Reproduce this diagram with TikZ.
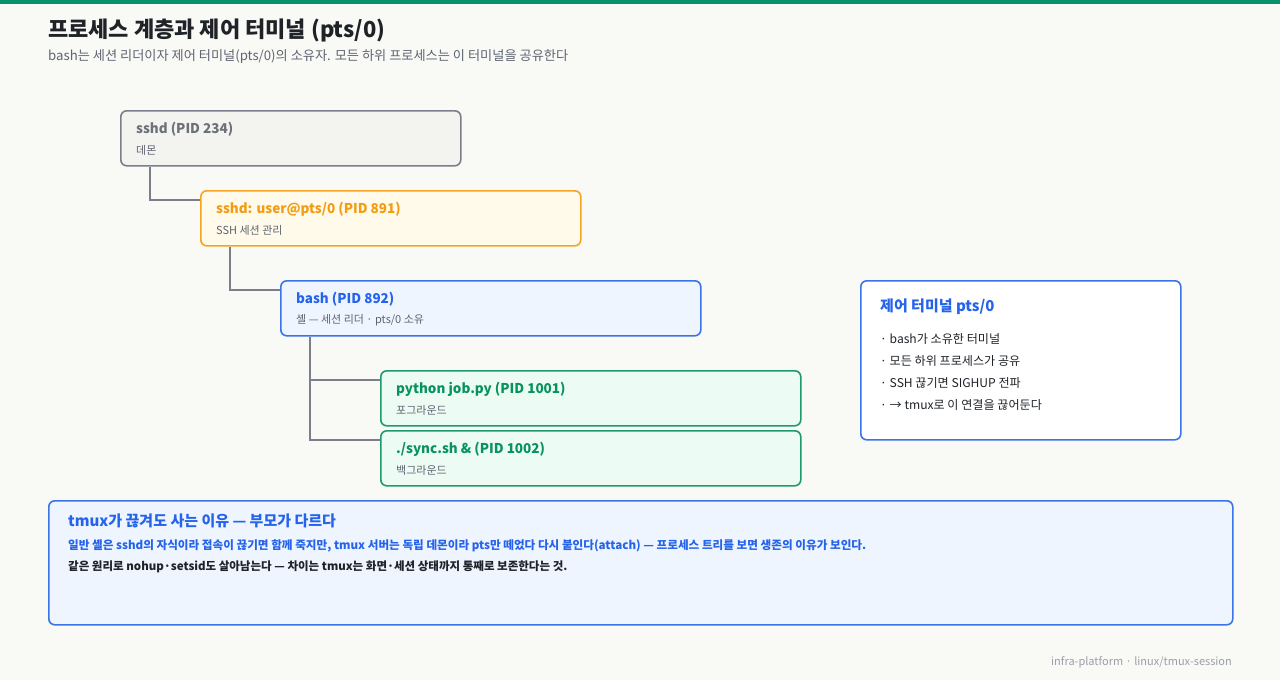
\documentclass[tikz,border=0pt]{standalone}
\usepackage{fontspec}
\setmainfont{Noto Sans CJK KR}
\usepackage{xcolor}
\usepackage{tikz}
\usetikzlibrary{positioning, calc}

\definecolor{bgpage}{HTML}{F9F9F6}
\definecolor{topbar}{HTML}{07936A}
\definecolor{ink}{HTML}{1F2328}
\definecolor{subink}{HTML}{5E6472}
\definecolor{linegray}{HTML}{7B7F8B}
\definecolor{greyline}{HTML}{7B7F8B}
\definecolor{greyfill}{HTML}{F3F3EF}
\definecolor{greytext}{HTML}{6B7079}
\definecolor{orangeline}{HTML}{F5A524}
\definecolor{orangefill}{HTML}{FFFAEA}
\definecolor{orangetext}{HTML}{F39C12}
\definecolor{blueline}{HTML}{3B74E6}
\definecolor{bluefill}{HTML}{EEF5FF}
\definecolor{bluetext}{HTML}{2563EB}
\definecolor{greenline}{HTML}{1F9A6E}
\definecolor{greenfill}{HTML}{ECFBF3}
\definecolor{greentext}{HTML}{08925F}
\definecolor{foot}{HTML}{9A9EAA}

\tikzset{
  procbox/.style={draw, line width=1.6pt, rounded corners=6pt, anchor=north west,
    minimum height=55, inner sep=0pt},
  boxtitle/.style={anchor=west, inner sep=0pt, font=\bfseries\fontsize{13.5}{16}\selectfont},
  boxsub/.style={anchor=west, inner sep=0pt, text=subink, font=\fontsize{11}{12}\selectfont},
  tree/.style={draw=linegray, line width=1.6pt},
  noteitem/.style={anchor=west, inner sep=0pt, text=ink, font=\fontsize{12.1}{13}\selectfont},
}
% #1 name, #2 x, #3 y, #4 width, #5 colour, #6 title, #7 subtitle
\newcommand{\procnode}[7]{%
  \node[procbox, draw=#5line, fill=#5fill, minimum width=#4] (#1) at (#2,#3) {};
  \node[boxtitle, text=#5text] (#1-t) at ([shift={(16,19)}]#1.north west) {#6};
  \node[boxsub] (#1-s) at ([shift={(16,40)}]#1.north west) {#7};%
}

\begin{document}
\begin{tikzpicture}[x=1pt, y=-1pt]
  \useasboundingbox[fill=bgpage] (0,0) rectangle (1280,680);
  \fill[topbar] (0,0) rectangle (1280,4);

  \node[anchor=west, inner sep=0pt, text=ink, font=\bfseries\fontsize{22}{26}\selectfont]
    (title) at (48,30) {프로세스 계층과 제어 터미널 (pts/0)};
  \node[anchor=west, inner sep=0pt, text=subink, font=\fontsize{13.2}{15}\selectfont]
    (subtitle) at (48,57) {bash는 세션 리더이자 제어 터미널(pts/0)의 소유자. 모든 하위 프로세스는 이 터미널을 공유한다};

  % process tree
  \procnode{sshd}{120}{110}{340}{grey}{sshd (PID 234)}{데몬}
  \procnode{user}{200}{190}{380}{orange}{sshd: user@pts/0 (PID 891)}{SSH 세션 관리}
  \procnode{bash}{280}{280}{420}{blue}{bash (PID 892)}{셸 — 세션 리더 · pts/0 소유}
  \procnode{python}{380}{370}{420}{green}{python job.py (PID 1001)}{포그라운드}
  \procnode{sync}{380}{430}{420}{green}{./sync.sh \& (PID 1002)}{백그라운드}

  \draw[tree] ([xshift=30pt]sshd.south west) |- ([yshift=-10pt]user.north west);
  \draw[tree] ([xshift=30pt]user.south west) |- ([yshift=-10pt]bash.north west);
  \draw[tree] ([xshift=30pt]bash.south west) |- ([yshift=-10pt]python.north west);
  \draw[tree] ([xshift=30pt]bash.south west) |- ([yshift=-10pt]sync.north west);

  % terminal note
  \node[procbox, draw=blueline, fill=white, minimum width=320, minimum height=159]
    (term) at (860,280) {};
  \node[anchor=west, inner sep=0pt, text=bluetext, font=\bfseries\fontsize{15}{17}\selectfont]
    (term-t) at ([shift={(20,27)}]term.north west) {제어 터미널 pts/0};
  \node[noteitem] (term-1) at ([shift={(20,59)}]term.north west) {· bash가 소유한 터미널};
  \node[noteitem] (term-2) at ([shift={(20,81)}]term.north west) {· 모든 하위 프로세스가 공유};
  \node[noteitem] (term-3) at ([shift={(20,103)}]term.north west) {· SSH 끊기면 SIGHUP 전파};
  \node[noteitem] (term-4) at ([shift={(20,125)}]term.north west) {· → tmux로 이 연결을 끊어둔다};

  % why tmux survives
  \node[procbox, draw=blueline, fill=bluefill, minimum width=1184, minimum height=124]
    (why) at (48,500) {};
  \node[anchor=west, inner sep=0pt, text=bluetext, font=\bfseries\fontsize{15}{17}\selectfont]
    (why-t) at ([shift={(20,21)}]why.north west) {tmux가 끊겨도 사는 이유 — 부모가 다르다};
  \node[anchor=west, inner sep=0pt, text=bluetext, font=\bfseries\fontsize{11.6}{13}\selectfont]
    (why-1) at ([shift={(20,46)}]why.north west) {일반 셸은 sshd의 자식이라 접속이 끊기면 함께 죽지만, tmux 서버는 독립 데몬이라 pts만 떼었다 다시 붙인다(attach) — 프로세스 트리를 보면 생존의 이유가 보인다.};
  \node[anchor=west, inner sep=0pt, text=ink, font=\bfseries\fontsize{11.5}{13}\selectfont]
    (why-2) at ([shift={(20,67)}]why.north west) {같은 원리로 nohup·setsid도 살아남는다 — 차이는 tmux는 화면·세션 상태까지 통째로 보존한다는 것.};

  \node[anchor=east, inner sep=0pt, text=foot, font=\fontsize{11}{13}\selectfont]
    (footer) at (1232,662) {infra-platform · linux/tmux-session};
\end{tikzpicture}
\end{document}
